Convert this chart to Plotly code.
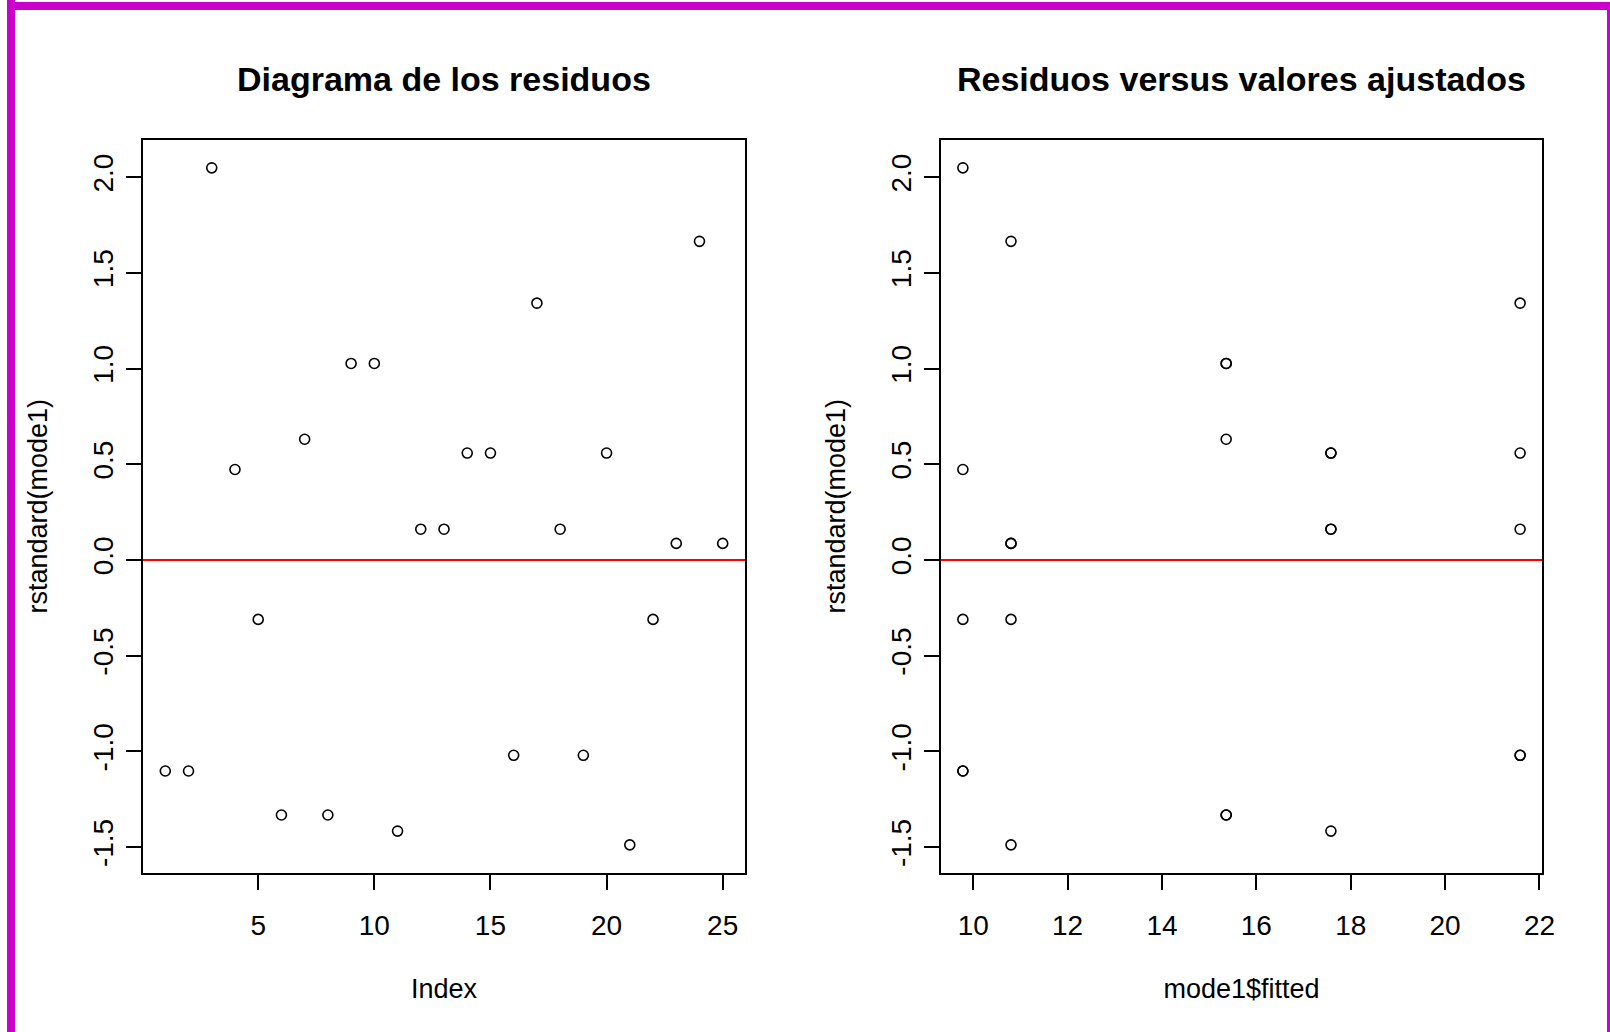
import plotly.graph_objects as go

# ---- data ----
index_vals = list(range(1, 26))
rstandard_vals = [-1.102, -1.102, 2.049, 0.473, -0.310,
                  -1.332, 0.631, -1.332, 1.027, 1.027,
                  -1.416, 0.161, 0.161, 0.559, 0.559,
                  -1.020, 1.342, 0.161, -1.020, 0.559,
                  -1.488, -0.310, 0.087, 1.665, 0.087]
fitted_vals = [9.78, 9.78, 9.78, 9.78, 9.78,
               15.36, 15.36, 15.36, 15.36, 15.36,
               17.58, 17.58, 17.58, 17.58, 17.58,
               21.59, 21.59, 21.59, 21.59, 21.59,
               10.80, 10.80, 10.80, 10.80, 10.80]
titles = ["Diagrama de los residuos", "Residuos versus valores ajustados"]
x_titles = ["Index", "mode1$fitted"]
y_title = "rstandard(mode1)"
y_ticks = [-1.5, -1.0, -0.5, 0.0, 0.5, 1.0, 1.5, 2.0]
y_ticktext = ["-1.5", "-1.0", "-0.5", "0.0", "0.5", "1.0", "1.5", "2.0"]
x1_ticks = [5, 10, 15, 20, 25]
x2_ticks = [10, 12, 14, 16, 18, 20, 22]

W, H = 1610, 1032
FONT = "Liberation Sans, Arial, sans-serif"
MAG = "#CC00CC"

def px_x(p):
    return p / W

def px_y(p):
    return 1 - p / H

box_top, box_bot = 139.5, 873.0
left_box = (143.0, 745.0)
right_box = (940.7, 1542.3)

fig = go.Figure()
marker = dict(symbol="circle-open", size=10, color="black", line=dict(width=1.6, color="black"))
fig.add_trace(go.Scatter(x=index_vals, y=rstandard_vals, mode="markers", marker=marker,
                         xaxis="x", yaxis="y", showlegend=False, hoverinfo="skip"))
fig.add_trace(go.Scatter(x=fitted_vals, y=rstandard_vals, mode="markers", marker=marker,
                         xaxis="x2", yaxis="y2", showlegend=False, hoverinfo="skip"))

axis_common = dict(showline=True, linecolor="black", linewidth=2, mirror=True,
                   ticks="outside", ticklen=15, tickwidth=2, tickcolor="black",
                   showgrid=False, zeroline=False, automargin=False,
                   tickfont=dict(family=FONT, size=28, color="black"))
yrange = [-1.635, 2.197]
title_font = dict(family=FONT, size=27, color="black")

fig.update_layout(
    width=W, height=H, margin=dict(l=0, r=0, t=0, b=0),
    paper_bgcolor="white", plot_bgcolor="white",
    xaxis=dict(domain=[px_x(left_box[0]), px_x(left_box[1])], range=[0.04, 25.96],
               tickvals=x1_ticks, anchor="y",
               title=dict(text=x_titles[0], font=title_font, standoff=40),
               ticklabelstandoff=11, **axis_common),
    yaxis=dict(domain=[px_y(box_bot), px_y(box_top)], range=yrange, tickvals=y_ticks,
               ticktext=y_ticktext, tickangle=-90, anchor="x",
               title=dict(text=y_title, font=title_font, standoff=32),
               ticklabelstandoff=2, **axis_common),
    xaxis2=dict(domain=[px_x(right_box[0]), px_x(right_box[1])], range=[9.31, 22.06],
                tickvals=x2_ticks, anchor="y2",
                title=dict(text=x_titles[1], font=title_font, standoff=40),
                ticklabelstandoff=11, **axis_common),
    yaxis2=dict(domain=[px_y(box_bot), px_y(box_top)], range=yrange, tickvals=y_ticks,
                ticktext=y_ticktext, tickangle=-90, anchor="x2",
                title=dict(text=y_title, font=title_font, standoff=32),
                ticklabelstandoff=2, **axis_common),
)

# red reference line at zero in each panel
for xr, yr in (("x domain", "y"), ("x2 domain", "y2")):
    fig.add_shape(type="line", xref=xr, yref=yr, x0=0, x1=1, y0=0, y1=0,
                  line=dict(color="red", width=2), layer="above")

# panel titles
for t, (a, b) in zip(titles, (left_box, right_box)):
    fig.add_annotation(text="<b>" + t + "</b>", xref="paper", yref="paper",
                       x=px_x((a + b) / 2), y=px_y(79), xanchor="center", yanchor="middle",
                       showarrow=False, font=dict(family=FONT, size=34, color="black"))

# magenta frame (left, top, right)
fig.add_shape(type="rect", xref="paper", yref="paper", x0=px_x(7), x1=px_x(15), y0=0, y1=1,
              fillcolor=MAG, line=dict(width=0), layer="above")
fig.add_shape(type="rect", xref="paper", yref="paper", x0=px_x(7), x1=1, y0=px_y(10), y1=px_y(2),
              fillcolor=MAG, line=dict(width=0), layer="above")
fig.add_shape(type="rect", xref="paper", yref="paper", x0=px_x(1607), x1=1, y0=0, y1=px_y(2),
              fillcolor=MAG, line=dict(width=0), layer="above")

# remove the default page margin so the figure sits at the window origin
fig.write_html("out.html", config={"displayModeBar": False},
               post_script="document.body.style.margin='0';")
